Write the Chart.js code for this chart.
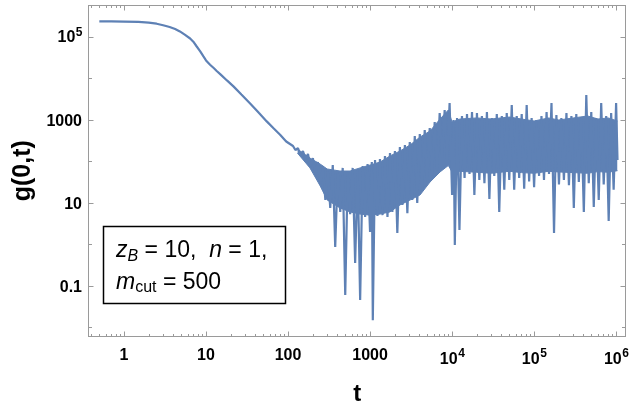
<!DOCTYPE html>
<html>
<head>
<meta charset="utf-8">
<script src="https://cdn.jsdelivr.net/npm/chart.js@4.4.1/dist/chart.umd.min.js"></script>
<style>
    html, body { margin: 0; padding: 0; background: #fff; }
    #wrap { position: relative; width: 629px; height: 403px; }
</style>
</head>
<body>
<div id="wrap"><canvas id="chart"></canvas></div>
<script>
// smooth decay
const tSmooth = [0.5, 0.7, 1, 1.5, 2, 2.5, 3, 3.6, 4.2, 4.8, 5.5, 6.4, 7, 7.7, 8.5, 9.3, 10, 11.2, 12.5, 13.5, 15, 18, 21.6, 27, 34.5, 44, 55, 67, 80, 95];
const gSmooth = [2.38e5, 2.37e5, 2.35e5, 2.31e5, 2.22e5, 2.09e5, 1.92e5, 1.74e5, 1.55e5, 1.36e5, 1.135e5, 9.2e4, 7.7e4, 5.9e4, 4.5e4, 3.4e4, 2.73e4, 2.15e4, 1.77e4, 1.52e4, 1.26e4, 8980, 6460, 4110, 2510, 1490, 925, 624, 443, 303];

// oscillating part: alternating tops and bottoms of the trace, spikes included
const tNoise = [
    115, 123, 132, 142, 152, 163, 175, 187, 201, 215, 231, 248, 266, 285, 305, 327, 351, 376, 404, 433, 464, 498, 534, 572, 614, 658, 706, 757, 812, 870, 933,
    1000, 1050, 1080, 1150, 1230, 1320, 1420, 1520, 1630, 1750, 1870, 2010, 2150, 2310, 2480, 2660, 2850, 3050, 3270, 3510, 3760, 4040, 4330, 4640, 4980, 5340, 5720, 6140, 6580, 7060, 7570, 8120, 8700, 9330,
    10000, 10400, 10800, 11500, 12300, 13200, 14200, 15200, 16300, 17500, 18700, 20100, 21500, 23100, 24800, 26600, 28500, 30500, 32700, 35100, 37600, 40400, 43300, 46400, 49800, 53400, 57200, 61400, 65800, 70600, 75700, 81200, 87000, 93300,
    100000, 107000, 115000, 123000, 132000, 142000, 152000, 163000, 175000, 187000, 201000, 215000, 231000, 248000, 266000, 285000, 305000, 327000, 351000, 376000, 404000, 433000, 464000, 498000, 534000, 572000, 614000, 658000, 706000, 757000, 812000, 870000, 933000,
    1000000, 1040000
];
const gNoise = [
    236, 189, 211, 144, 179, 115, 152, 78, 121, 47, 97, 27, 78, 11.8, 62, 7.6, 82, 0.87, 56, 6.1, 70, 0.061, 50, 5.4, 70, 0.36, 62, 0.046, 78, 4.6, 87,
    2.0, 97, 0.015, 109, 4.9, 115, 5.1, 136, 4.6, 160, 6.1, 179, 1.9, 223, 9, 250, 5.7, 295, 11.8, 411, 10, 460, 21, 575, 32, 640, 47, 895, 62, 1475, 121, 1740, 109, 2570,
    15.6, 1000, 0.97, 1120, 2.24, 1250, 40, 1395, 50, 1560, 15.6, 1475, 36, 1250, 30, 1560, 12.5, 1120, 45, 1395, 6.1, 1250, 21, 1475, 36, 2300, 21, 1250, 40, 1395, 22, 2300, 33, 1120,
    24, 1000, 45, 1250, 36, 1560, 50, 2570, 1.9, 1320, 28, 1120, 36, 1475, 27, 1250, 7.6, 1395, 32, 1180, 6.1, 4000, 30, 1560, 8.0, 1120, 11.8, 2570, 28, 1250, 3.7, 1475, 21,
    2570, 109
];

// solid body of the fast oscillation (upper and lower edge)
const tBand = [130, 185, 246, 300, 430, 570, 755, 1000, 1325, 1750, 2320, 3075, 4070, 5390, 7140, 9000, 10000, 12500, 20000, 30000, 50000, 70000, 100000, 150000, 200000, 300000, 450000, 600000, 800000, 1040000];
const gBandTop = [200, 121, 87, 66, 59, 59, 70, 82, 97, 136, 179, 250, 389, 543, 1057, 1740, 895, 1057, 1120, 1057, 1180, 1057, 946, 1120, 1000, 1120, 1250, 1057, 1120, 946];
const gBandBottom = [160, 70, 26, 11.8, 7.6, 6.1, 5.4, 5.1, 5.4, 6.1, 9, 11.8, 15.6, 32, 56, 80, 56, 58, 55, 52, 58, 54, 52, 58, 56, 54, 52, 57, 55, 60];

// axis ticks
const xMajor = [1, 10, 100, 1000, 1e4, 1e5, 1e6];
const xMajorLabels = [["1"], ["10"], ["100"], ["1000"], ["10", "4"], ["10", "5"], ["10", "6"]];
const yMajor = [1e5, 1000, 10, 0.1];
const yMajorLabels = [["10", "5"], ["1000"], ["10"], ["0.1"]];
const yMinor = [1e4, 100, 1, 0.01];
const xMinorSteps = [2, 3, 4, 5, 6, 7, 8, 9];
const xMinor = [0.4, 0.5, 0.6, 0.7, 0.8, 0.9].concat(
    [1, 10, 100, 1000, 1e4, 1e5].flatMap(d => xMinorSteps.map(s => s * d))
);

const LINE_COLOR = "#5e81b5";
const FRAME_COLOR = "#9a9a9a";
const FONT = '"Liberation Sans", Arial, sans-serif';

const points = tSmooth.map((t, i) => ({ x: t, y: gSmooth[i] }))
    .concat(tNoise.map((t, i) => ({ x: t, y: gNoise[i] })));
const bandTop = tBand.map((t, i) => ({ x: t, y: gBandTop[i] }));
const bandBottom = tBand.map((t, i) => ({ x: t, y: gBandBottom[i] }));

function drawPowerLabel(ctx, parts, x, baseline, align) {
    ctx.font = "bold 16px " + FONT;
    const wb = ctx.measureText(parts[0]).width;
    let we = 0;
    if (parts[1]) {
        ctx.font = "bold 12px " + FONT;
        we = ctx.measureText(parts[1]).width;
    }
    const left = align === "center" ? x - (wb + we) / 2 : x - (wb + we);
    ctx.textAlign = "left";
    ctx.font = "bold 16px " + FONT;
    ctx.fillText(parts[0], left, baseline);
    if (parts[1]) {
        ctx.font = "bold 12px " + FONT;
        ctx.fillText(parts[1], left + wb + 0.5, baseline - 6.5);
    }
}

function drawRuns(ctx, runs, x, baseline) {
    let cx = x;
    runs.forEach(r => {
        ctx.font = r.font;
        ctx.fillText(r.text, cx, baseline + (r.dy || 0));
        cx += ctx.measureText(r.text).width;
    });
}

const framePlugin = {
    id: "mmaFrame",
    afterDatasetsDraw(chart) {
        const { ctx, chartArea: a, scales: { x, y } } = chart;
        const L = Math.round(a.left) + 0.5, R = Math.round(a.right) - 0.5;
        const T = Math.round(a.top) + 0.5, B = Math.round(a.bottom) - 0.5;
        ctx.save();

        // frame and inward ticks on all four sides
        ctx.strokeStyle = FRAME_COLOR;
        ctx.lineWidth = 1;
        ctx.strokeRect(L, T, R - L, B - T);
        ctx.beginPath();
        const xTick = (v, len) => {
            const px = Math.round(x.getPixelForValue(v)) + 0.5;
            if (px < L || px > R) return;
            ctx.moveTo(px, B); ctx.lineTo(px, B - len);
            ctx.moveTo(px, T); ctx.lineTo(px, T + len);
        };
        const yTick = (v, len) => {
            const py = Math.round(y.getPixelForValue(v)) + 0.5;
            ctx.moveTo(L, py); ctx.lineTo(L + len, py);
            ctx.moveTo(R, py); ctx.lineTo(R - len, py);
        };
        xMajor.forEach(v => xTick(v, 5));
        xMinor.forEach(v => xTick(v, 2.5));
        yMajor.forEach(v => yTick(v, 5));
        yMinor.forEach(v => yTick(v, 3.5));
        ctx.stroke();

        // tick labels
        ctx.fillStyle = "#000";
        ctx.textBaseline = "alphabetic";
        xMajor.forEach((v, i) => {
            const px = x.getPixelForValue(v);
            const lab = xMajorLabels[i];
            drawPowerLabel(ctx, lab, px, lab[1] ? 363.5 : 359.5, "center");
        });
        yMajor.forEach((v, i) => {
            const py = y.getPixelForValue(v);
            const lab = yMajorLabels[i];
            drawPowerLabel(ctx, lab, 82, py + (lab[1] ? 5.5 : 6), "right");
        });

        // axis titles
        ctx.font = "bold 24px " + FONT;
        ctx.textAlign = "center";
        ctx.fillText("t", (a.left + a.right) / 2, 401);
        ctx.save();
        ctx.translate(30, (a.top + a.bottom) / 2);
        ctx.rotate(-Math.PI / 2);
        ctx.font = "bold 25px " + FONT;
        ctx.fillText("g(0,t)", 0, 0);
        ctx.restore();

        // parameter box
        ctx.fillStyle = "#fff";
        ctx.fillRect(103.5, 226.5, 182, 77);
        ctx.strokeStyle = "#000";
        ctx.lineWidth = 1.5;
        ctx.strokeRect(103.5, 226.5, 182, 77);
        ctx.fillStyle = "#000";
        ctx.textAlign = "left";
        const it = "italic 23px " + FONT, rg = "23px " + FONT;
        drawRuns(ctx, [
            { text: "z", font: it },
            { text: "B", font: "italic 16px " + FONT, dy: 4 },
            { text: " = 10,  ", font: rg },
            { text: "n", font: it },
            { text: " = 1,", font: rg },
        ], 116, 257);
        drawRuns(ctx, [
            { text: "m", font: it },
            { text: "cut", font: "16px " + FONT, dy: 3.5 },
            { text: " = 500", font: rg },
        ], 116, 288.5);

        ctx.restore();
    },
};

new Chart(document.getElementById("chart"), {
    type: "line",
    data: {
        datasets: [{
            label: "g(0,t)",
            data: points,
            borderColor: LINE_COLOR,
            borderWidth: 2.2,
            borderJoinStyle: "bevel",
            pointRadius: 0,
            tension: 0,
            fill: false,
        }, {
            label: "band top",
            data: bandTop,
            borderColor: LINE_COLOR,
            backgroundColor: LINE_COLOR,
            borderWidth: 1,
            pointRadius: 0,
            tension: 0,
            fill: "+1",
        }, {
            label: "band bottom",
            data: bandBottom,
            borderColor: LINE_COLOR,
            borderWidth: 1,
            pointRadius: 0,
            tension: 0,
            fill: false,
        }],
    },
    options: {
        responsive: true,
        maintainAspectRatio: false,
        animation: false,
        events: [],
        layout: { padding: { left: 88.3, top: 4.7, right: 3, bottom: 66.3 } },
        plugins: { legend: { display: false }, tooltip: { enabled: false } },
        scales: {
            x: { type: "logarithmic", min: 0.367, max: 1.32e6, display: false },
            y: { type: "logarithmic", min: 0.006, max: 6.0e5, display: false },
        },
    },
    plugins: [framePlugin],
});
</script>
</body>
</html>
